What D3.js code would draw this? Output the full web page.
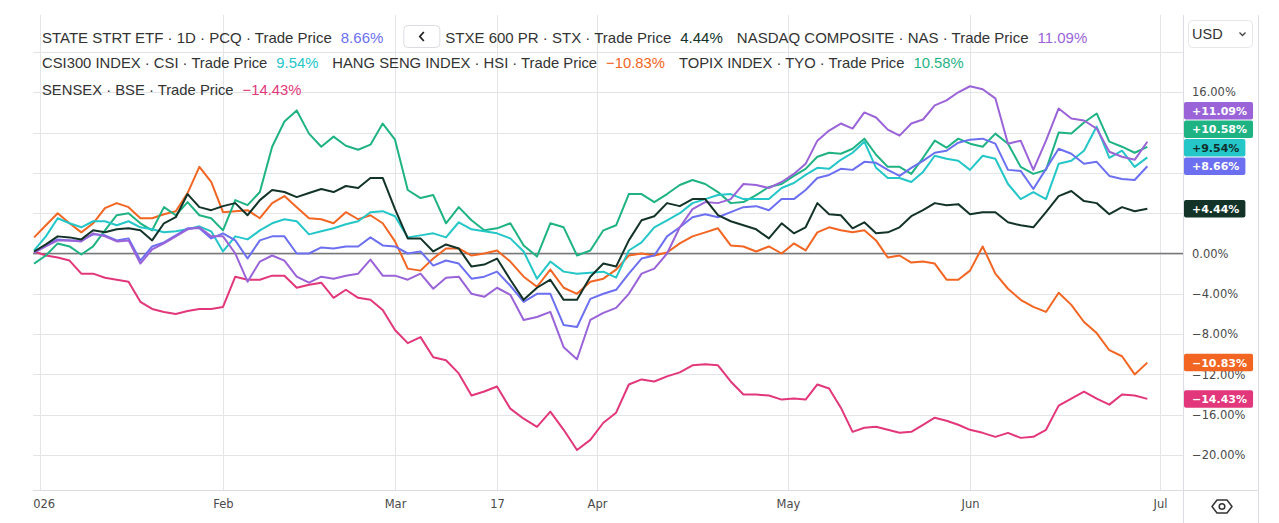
<!DOCTYPE html>
<html>
<head>
<meta charset="utf-8">
<script src="https://cdn.jsdelivr.net/npm/d3@7"></script>
<style>
  html, body { margin: 0; padding: 0; background: #fff; }
  svg { display: block; }
</style>
</head>
<body>
<script>
// Sample dates: every second calendar day, Dec 31 2025 .. Jun 29 2026
var dates = d3.timeDay.range(new Date(2025, 11, 31), new Date(2026, 5, 30), 2);

// % change since start
var pcq = [0.1,0.8,1.4,1.3,1.3,1.9,1.8,1.3,1.5,-0.7,
  0.7,1.1,1.8,2.5,2.5,1.5,2.0,1.3,-0.5,1.3,
  1.7,1.7,0.0,0.0,0.6,0.5,0.7,0.7,1.6,0.8,
  0.7,0.0,0.2,-1.2,-0.7,-1.0,-2.5,-2.3,-1.8,-3.2,
  -4.8,-4.0,-4.0,-7.1,-7.3,-4.5,-4.0,-3.6,-2.0,-0.5,
  -0.2,1.7,2.6,3.6,3.9,3.6,4.1,4.6,4.7,4.3,
  5.4,5.4,6.3,7.5,7.8,8.4,8.3,9.1,9.0,8.3,
  7.7,8.5,9.2,10.0,10.2,11.0,11.3,11.4,10.9,8.3,
  8.2,6.4,8.4,10.4,9.9,8.9,9.1,7.7,7.4,7.3,8.66];
var stx = [0.2,0.9,1.7,1.6,1.4,2.3,2.1,2.4,2.5,2.3,
  1.3,3.0,3.6,5.9,4.6,4.3,4.7,5.0,3.8,5.3,
  6.3,6.1,5.6,6.0,6.4,6.1,6.7,6.5,7.5,7.5,
  4.4,1.5,1.5,0.2,0.9,0.5,-1.3,-1.1,-0.5,-2.6,
  -4.6,-3.4,-2.6,-4.6,-4.6,-2.3,-1.0,-1.3,1.3,3.3,
  3.7,5.0,4.7,5.4,5.4,3.8,3.2,2.8,2.4,1.5,
  3.0,2.0,2.6,5.0,3.9,3.8,2.5,3.1,2.0,2.1,
  2.6,3.7,4.3,5.0,4.8,4.9,3.9,4.1,4.1,3.1,
  2.8,2.6,4.1,5.7,6.2,5.2,5.0,3.9,4.6,4.2,4.44];
var nas = [0.1,0.7,1.3,1.3,1.2,2.0,1.7,1.2,1.3,-1.0,
  0.4,1.0,1.7,2.4,2.6,1.7,1.7,0.0,-2.8,-0.8,
  -0.2,-0.7,-2.3,-2.9,-2.3,-2.5,-2.2,-2.0,-0.6,-2.2,
  -2.2,-2.6,-2.0,-3.5,-2.4,-2.3,-4.0,-4.3,-3.4,-4.1,
  -6.6,-6.3,-5.8,-9.3,-10.5,-6.6,-5.9,-5.4,-4.0,-2.0,
  -1.5,0.0,2.6,4.4,5.1,5.0,5.4,6.9,6.8,6.5,
  7.1,7.9,8.9,11.2,12.2,12.9,12.4,14.0,13.5,12.3,
  11.7,12.9,13.3,14.7,15.2,16.0,16.6,16.3,15.4,10.9,
  11.2,8.3,11.2,14.4,13.4,13.2,12.4,10.1,9.6,9.3,11.09];
var csi = [0.3,1.7,3.5,3.0,2.6,3.2,3.2,2.8,3.2,2.6,
  2.4,2.1,2.2,2.4,2.7,2.2,0.2,1.7,1.4,2.3,
  3.0,3.4,3.2,1.9,2.2,2.5,2.9,3.2,4.1,4.2,
  3.7,1.6,1.8,2.0,1.6,3.1,2.4,2.2,2.0,1.5,
  0.2,-2.5,-0.8,-1.8,-2.0,-1.9,-1.8,-2.4,0.3,1.1,
  2.6,3.3,4.0,5.0,5.4,5.8,5.9,5.4,5.4,5.4,
  6.5,7.0,7.8,8.5,8.4,9.3,10.0,11.1,8.5,7.5,
  7.5,7.1,8.1,9.7,9.4,9.2,8.3,9.7,9.4,6.9,
  5.4,6.1,5.4,8.9,9.2,10.2,12.6,9.5,10.2,8.6,9.54];
var hsi = [1.6,2.8,4.0,3.0,2.1,3.0,4.5,5.0,4.6,3.5,
  3.5,3.9,4.2,6.0,8.6,7.1,4.1,4.2,4.3,3.5,
  5.0,5.7,4.6,3.5,3.4,3.0,4.1,3.4,3.8,3.0,
  1.2,-1.5,-1.7,-0.5,0.5,0.5,-0.2,0.0,0.3,-0.8,
  -2.3,-3.3,-1.6,-3.4,-4.0,-2.8,-2.5,-1.6,-0.2,0.0,
  -0.2,0.1,1.0,1.7,2.1,2.5,0.8,0.7,0.2,0.7,
  0.0,1.0,0.3,2.1,2.6,2.3,2.1,2.3,1.3,-0.4,
  -0.2,-0.9,-0.8,-1.0,-2.6,-2.6,-1.7,0.7,-2.0,-3.5,
  -4.6,-5.3,-5.8,-3.9,-5.1,-6.8,-7.9,-9.6,-10.2,-12.0,-10.83];
var tyo = [-1.0,-0.2,1.0,0.7,-0.1,0.7,2.3,3.8,4.0,3.0,
  2.3,4.6,3.8,5.1,3.8,3.5,2.3,5.3,4.8,6.1,
  10.6,13.1,14.2,11.9,10.6,11.6,10.7,10.3,10.8,12.9,
  11.3,6.3,5.5,5.8,3.0,4.6,3.3,2.3,2.5,3.0,
  0.8,-0.3,3.0,2.6,-0.2,0.3,2.3,2.8,5.9,5.9,
  5.1,5.9,6.8,7.3,6.9,6.1,5.0,5.1,5.8,6.6,
  6.9,7.7,8.4,9.6,10.0,9.9,10.4,11.4,9.8,8.6,
  8.6,7.9,9.5,11.2,10.5,11.4,10.9,10.6,11.9,10.9,
  8.6,7.9,8.3,12.0,11.9,13.0,13.9,11.1,10.6,10.0,10.58];
var bse = [0.2,-0.2,-0.4,-0.7,-2.0,-2.0,-2.4,-2.6,-2.8,-4.8,
  -5.5,-5.8,-6.0,-5.7,-5.5,-5.5,-5.3,-2.3,-2.6,-2.6,
  -2.2,-2.2,-3.4,-3.1,-2.9,-4.4,-3.6,-4.4,-4.6,-5.6,
  -7.6,-8.9,-8.3,-10.3,-10.6,-11.9,-14.1,-13.7,-13.2,-15.4,
  -16.4,-17.2,-15.7,-17.5,-19.5,-18.5,-16.8,-15.8,-13.0,-12.5,
  -12.7,-12.2,-11.8,-11.1,-11.0,-11.1,-12.7,-14.0,-14.0,-14.1,
  -14.5,-14.4,-14.5,-13.0,-13.4,-15.3,-17.7,-17.3,-17.2,-17.5,
  -17.8,-17.7,-17.0,-16.3,-16.6,-17.0,-17.5,-17.8,-18.2,-17.8,
  -18.3,-18.2,-17.5,-15.1,-14.4,-13.7,-14.4,-15.0,-14.0,-14.1,-14.43];

var titles = ["STATE STRT ETF · 1D · PCQ · Trade Price", "STXE 600 PR · STX · Trade Price",
  "NASDAQ COMPOSITE · NAS · Trade Price", "CSI300 INDEX · CSI · Trade Price",
  "HANG SENG INDEX · HSI · Trade Price", "TOPIX INDEX · TYO · Trade Price", "SENSEX · BSE · Trade Price"];
var colors = ["#6c70f0", "#133328", "#9a64d8", "#24c6c8", "#f26522", "#1fb384", "#e2377a"];
var badgeText = ["#fff", "#fff", "#fff", "#10302c", "#fff", "#fff", "#fff"];
var values = [pcq, stx, nas, csi, hsi, tyo, bse];

// Axis ticks
var tickDates = [new Date(2026,0,1), new Date(2026,1,1), new Date(2026,2,1), new Date(2026,2,17),
  new Date(2026,3,1), new Date(2026,4,1), new Date(2026,5,1), new Date(2026,6,1)];
var tickLabels = ["2026", "Feb", "Mar", "17", "Apr", "May", "Jun", "Jul"];
var yTicks = [-20, -16, -12, -8, -4, 0, 4, 8, 12, 16];
var yGrid = [-20, -16, -12, -8, -4, 0, 4, 8, 12, 16, 20];

// Layout
var W = 1279, H = 523;
var paneL = 33, paneR = 1183, paneT = 15, paneB = 490, axisR = 1258;

var svg = d3.select('body').append('svg').attr('width', W).attr('height', H);

// time axis is compressed like a trading-day axis, so the scale is piecewise
var x = d3.scaleTime().domain(tickDates).range([40, 223, 395, 497, 597, 788, 970, 1160]);
var y = d3.scaleLinear().domain([-20, 20]).range([455, 52]);

var series = values.map(function (v, i) {
    return {
        title: titles[i], color: colors[i], text: badgeText[i],
        points: v.map(function (val, j) { return { date: dates[j], value: val }; }),
        last: v[v.length - 1]
    };
});

svg.append('clipPath').attr('id', 'pane').append('rect')
    .attr('x', paneL).attr('y', paneT).attr('width', paneR - paneL).attr('height', paneB - paneT);
svg.append('clipPath').attr('id', 'taxis').append('rect')
    .attr('x', paneL).attr('y', paneB).attr('width', paneR - paneL).attr('height', H - paneB);

// grid
var grid = svg.append('g').attr('clip-path', 'url(#pane)');
grid.selectAll('line.h').data(yGrid).enter().append('line')
    .attr('x1', paneL).attr('x2', paneR)
    .attr('y1', function (d) { return Math.round(y(d)) + 0.5; })
    .attr('y2', function (d) { return Math.round(y(d)) + 0.5; })
    .attr('stroke', '#e3e4e8').attr('stroke-width', 1);
grid.selectAll('line.v').data(tickDates).enter().append('line')
    .attr('x1', function (d) { return Math.round(x(d)) + 0.5; })
    .attr('x2', function (d) { return Math.round(x(d)) + 0.5; })
    .attr('y1', paneT).attr('y2', paneB)
    .attr('stroke', '#e3e4e8').attr('stroke-width', 1);
grid.append('line').attr('x1', paneL).attr('x2', paneR)
    .attr('y1', y(0)).attr('y2', y(0)).attr('stroke', '#787878').attr('stroke-width', 1.3);

// pane borders
svg.append('line').attr('x1', paneR + 0.5).attr('x2', paneR + 0.5).attr('y1', paneT).attr('y2', H)
    .attr('stroke', '#dcdde2');
svg.append('line').attr('x1', axisR + 0.5).attr('x2', axisR + 0.5).attr('y1', paneT).attr('y2', H)
    .attr('stroke', '#dcdde2');
svg.append('line').attr('x1', paneL).attr('x2', axisR).attr('y1', paneB + 0.5).attr('y2', paneB + 0.5)
    .attr('stroke', '#dcdde2');

// lines
var line = d3.line()
    .x(function (d) { return x(d.date); })
    .y(function (d) { return y(d.value); });
var drawOrder = [6, 4, 5, 3, 0, 2, 1];
svg.append('g').attr('clip-path', 'url(#pane)')
    .selectAll('path').data(drawOrder.map(function (i) { return series[i]; })).enter().append('path')
    .attr('d', function (d) { return line(d.points); })
    .attr('fill', 'none').attr('stroke', function (d) { return d.color; })
    .attr('stroke-width', 2).attr('stroke-linejoin', 'round');

// last-value badges, pushed up when they collide
var bh = 18.5;
var badges = series.map(function (s) { return { s: s, y: y(s.last) }; })
    .sort(function (a, b) { return b.y - a.y; });
badges.forEach(function (b, i) {
    if (i > 0 && b.y > badges[i - 1].y - bh) b.y = badges[i - 1].y - bh;
});

// price axis: labels hidden behind a badge are left out, as the chart does
var shownTicks = yTicks.filter(function (t) {
    return !badges.some(function (b) { return Math.abs(b.y - y(t)) < 10; });
});
var fmtAxis = function (d) { return d3.format('.2f')(d) + '%'; };
var yAxis = svg.append('g').attr('transform', 'translate(' + (paneR + 3) + ',0)')
    .call(d3.axisRight(y).tickValues(shownTicks).tickFormat(fmtAxis).tickSize(0).tickPadding(6));
yAxis.select('.domain').remove();
yAxis.selectAll('text').attr('font-family', 'DejaVu Sans, sans-serif').attr('font-size', 11.5)
    .attr('fill', '#4a4a4a');

// time axis
var xAxis = svg.append('g').attr('clip-path', 'url(#taxis)').append('g')
    .attr('transform', 'translate(0,' + (paneB + 10) + ')')
    .call(d3.axisBottom(x).tickValues(tickDates)
        .tickFormat(function (d, i) { return tickLabels[i]; }).tickSize(0).tickPadding(0));
xAxis.select('.domain').remove();
xAxis.selectAll('text').attr('font-family', 'DejaVu Sans, sans-serif').attr('font-size', 11.5)
    .attr('fill', '#4a4a4a').attr('dy', '0.71em');

var fmtBadge = d3.format('+.2f');
var bg = svg.selectAll('g.badge').data(badges).enter().append('g')
    .attr('transform', function (d) { return 'translate(' + (paneR + 1) + ',' + d.y + ')'; });
bg.append('text').text(function (d) { return fmtBadge(d.s.last) + '%'; })
    .attr('x', 8).attr('y', 4.2)
    .attr('font-family', 'DejaVu Sans, sans-serif').attr('font-weight', 'bold').attr('font-size', 11)
    .attr('fill', function (d) { return d.s.text; });
bg.each(function () {
    var g = d3.select(this);
    var w = g.select('text').node().getComputedTextLength();
    g.insert('rect', 'text').attr('x', 0).attr('y', -bh / 2 + 0.5).attr('width', w + 14).attr('height', bh - 1)
        .attr('rx', 2).attr('fill', function (d) { return d.s.color; });
});

// legend
var rows = [[0, 'btn', 1, 2], [3, 4, 5], [6]];
var baselines = [43, 68, 95];
var rowFont = [15, 14.8, 14.8];
var fmtVal = d3.format('.2f');
rows.forEach(function (row, r) {
    var cx = 42;
    row.forEach(function (item) {
        if (item === 'btn') {
            cx += 6;
            svg.append('rect').attr('x', cx + 0.5).attr('y', 25.5).attr('width', 36).attr('height', 22)
                .attr('rx', 4).attr('fill', '#fff').attr('stroke', '#dcdde2');
            svg.append('path').attr('d', 'M' + (cx + 20.5) + ',32 l-4,4.5 l4,4.5')
                .attr('fill', 'none').attr('stroke', '#222').attr('stroke-width', 1.8);
            cx += 42;
            return;
        }
        var s = series[item];
        var t = svg.append('text').attr('x', cx).attr('y', baselines[r]).text(s.title)
            .attr('font-family', 'Liberation Sans, Arial, sans-serif').attr('font-size', rowFont[r]).attr('fill', '#333');
        cx += t.node().getComputedTextLength() + 9;
        var v = svg.append('text').attr('x', cx).attr('y', baselines[r]).text(fmtVal(s.last) + '%')
            .attr('font-family', 'Liberation Sans, Arial, sans-serif').attr('font-size', rowFont[r]).attr('fill', s.color);
        cx += v.node().getComputedTextLength() + 14;
    });
});

// currency selector
svg.append('rect').attr('x', 1188.5).attr('y', 20.5).attr('width', 64).attr('height', 27).attr('rx', 4)
    .attr('fill', '#fff').attr('stroke', '#e6e7eb');
svg.append('text').attr('x', 1192).attr('y', 39).text('USD')
    .attr('font-family', 'Liberation Sans, Arial, sans-serif').attr('font-size', 14.5).attr('fill', '#333');
svg.append('path').attr('d', 'M1239.5,32.5 l3,3 l3,-3').attr('fill', 'none').attr('stroke', '#444').attr('stroke-width', 1.3);

// settings icon in the corner
svg.append('path').attr('d', 'M1212,506.5 L1217,500 L1227,500 L1232,506.5 L1227,513 L1217,513 Z')
    .attr('fill', 'none').attr('stroke', '#333').attr('stroke-width', 1.5).attr('stroke-linejoin', 'round');
svg.append('circle').attr('cx', 1222).attr('cy', 506.5).attr('r', 2.8)
    .attr('fill', 'none').attr('stroke', '#333').attr('stroke-width', 1.5);
</script>
</body>
</html>
